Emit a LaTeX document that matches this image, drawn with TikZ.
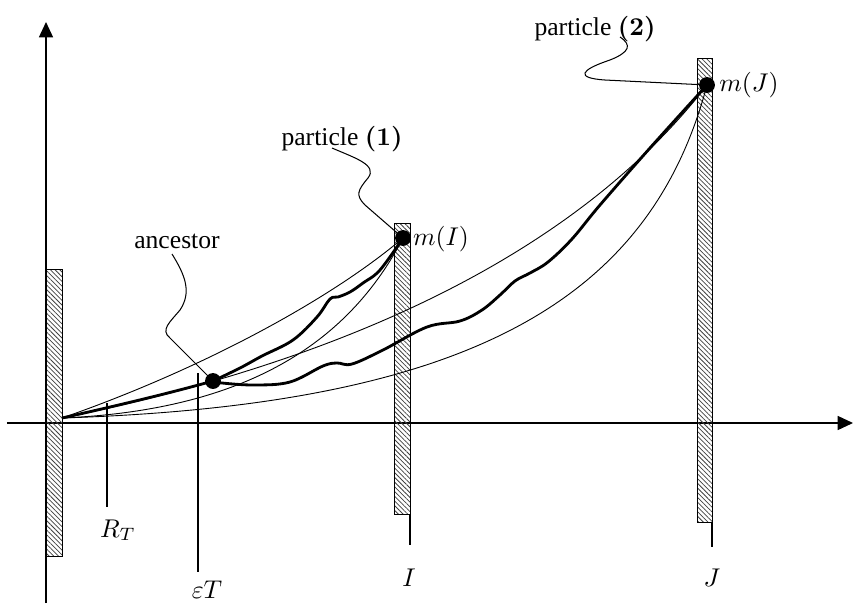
\documentclass[tikz,border=0pt]{standalone}
\usepackage[no-math]{fontspec}
\setmainfont{Liberation Serif}
\usepackage{amsmath,amssymb}
\usetikzlibrary{arrows.meta, patterns.meta}

\begin{document}
\begin{tikzpicture}[
  x=0.39pt, y=-0.39pt,
  axis/.style={line width=0.5pt, -{Triangle[length=6pt, width=5.5pt]}},
  wall/.style={draw, line width=0.35pt, pattern={Lines[angle=-45, distance=1.3pt, line width=0.3pt]}, pattern color=black!75},
  thin/.style={line width=0.35pt},
  thickpath/.style={line width=1.1pt},
  tickline/.style={line width=0.4pt},
  leader/.style={line width=0.4pt},
  dot/.style={circle, fill, inner sep=0pt, minimum size=6.2pt},
  lbl/.style={anchor=base, inner sep=0pt}
]
\useasboundingbox (0,0) rectangle (853,606);

% axes
\draw[axis] (7,423) -- (853,423);
\draw[axis] (46,603) -- (46,22);

% walls
\draw[wall] (46,269) rectangle (62,556);
\draw[wall] (394,223) rectangle (410,514);
\draw[wall] (697,58) rectangle (712,522);

% points
\coordinate (o) at (62,418);
\node[dot] (anc) at (213,381) {};
\node[dot] (mI)  at (403,238) {};
\node[dot] (mJ)  at (707,85) {};

% labels
\node[lbl] (lanc) at (177,248) {ancestor};
\node[lbl] (lp1)  at (342,145) {particle $\boldsymbol{(1)}$};
\node[lbl] (lp2)  at (595,35)  {particle $\boldsymbol{(2)}$};
\node[lbl] (lmI)  at (441,245) {$m(I)$};
\node[lbl] (lmJ)  at (749,91)  {$m(J)$};
\node[lbl] (lRT)  at (118,537) {$R_T$};
\node[lbl] (leT)  at (207,598) {$\varepsilon T$};
\node[lbl] (lI)   at (409,586) {$I$};
\node[lbl] (lJ)   at (712,586) {$J$};

% marks on the axis
\draw[tickline] (107,403) -- (107,507);
\draw[tickline] (198,373) -- (198,572);
\draw[tickline] (410,514) -- (410,545);
\draw[tickline] (712,522) -- (712,547);

% thin envelopes to m(I)
\draw[thin] (o) .. controls (200,370) and (330,300) .. (mI.center);
\draw[thin] (o) .. controls (250,410) and (350,340) .. (mI.center);

% thin envelopes to m(J)
\draw[thin] (o) .. controls (350,360) and (580,250) .. (mJ.center);
\draw[thin] (o) .. controls (470,405) and (650,300) .. (mJ.center);

% thick paths through the ancestor
\draw[thickpath] (o) .. controls (120,405) and (170,393) .. (anc.center);
\draw[thickpath] plot[smooth, tension=0.6] coordinates {(anc.center) (240,368) (262,356) (293,340) (317,317) (330,299) (338,297) (350,292) (363,283) (380,270) (mI.center)};
\draw[thickpath] plot[smooth, tension=0.6] coordinates {(anc.center) (222,383) (255,385) (290,382) (323,366) (337,363) (352,364) (383,350) (427,327) (460,321) (482,310) (500,295) (515,281) (530,273) (548,262) (572,239) (600,205) (650,148) (mJ.center)};

% leaders
\draw[leader] (172,254) .. controls (185,275) and (192,292) .. (180,310) .. controls (170,322) and (160,330) .. (170,338) -- (anc.center);
\draw[leader] (332,148) .. controls (355,158) and (378,165) .. (368,178) .. controls (358,190) and (355,195) .. (365,205) -- (mI.center);
\draw[leader] (620,37) .. controls (632,45) and (630,52) .. (610,60) .. controls (580,70) and (575,78) .. (605,80) -- (mJ.center);
\end{tikzpicture}
\end{document}
